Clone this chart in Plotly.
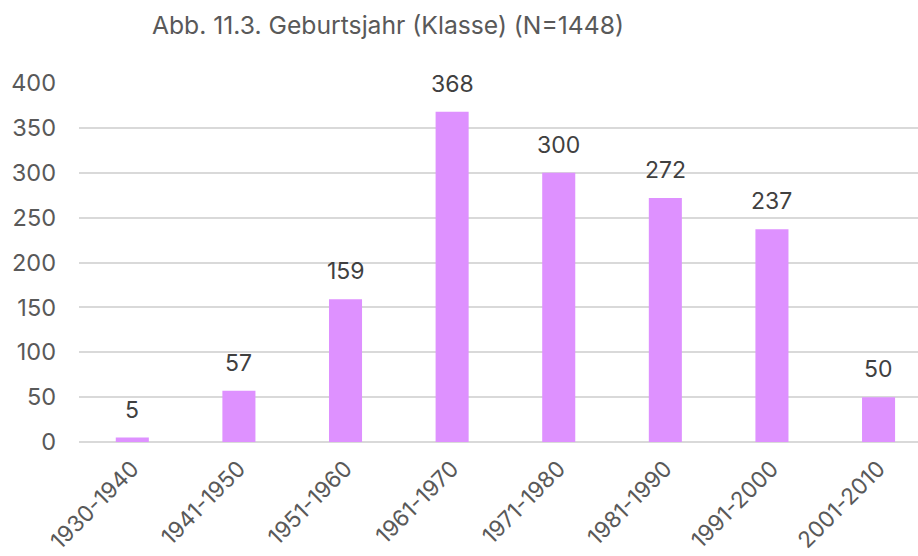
import plotly.graph_objects as go

categories = ["1930-1940", "1941-1950", "1951-1960", "1961-1970",
              "1971-1980", "1981-1990", "1991-2000", "2001-2010"]
counts = [5, 57, 159, 368, 300, 272, 237, 50]
title_text = "Abb. 11.3. Geburtsjahr (Klasse) (N=1448)"
y_ticks = [0, 50, 100, 150, 200, 250, 300, 350, 400]

FONT = "Inter, Roboto, sans-serif"

fig = go.Figure()
fig.add_trace(go.Bar(
    x=categories, y=counts,
    marker=dict(color="#DE91FF", line=dict(width=0)),
    width=0.31,
    hoverinfo="x+y",
))

for c, v in zip(categories, counts):
    fig.add_annotation(x=c, y=v, text=str(v), showarrow=False,
                       yanchor="bottom", yshift=12,
                       font=dict(family=FONT, size=23, color="#404040"))

fig.update_layout(
    width=918, height=556,
    margin=dict(l=79, r=0, t=83, b=114),
    paper_bgcolor="white", plot_bgcolor="white",
    showlegend=False,
    title=dict(text=title_text, x=388/918, xanchor="center",
               y=1 - 25/556, yanchor="middle",
               font=dict(family=FONT, size=24.7, color="#595959")),
    xaxis=dict(
        type="category", range=[-0.5, 7.37], automargin=False,
        tickangle=-45, showgrid=False, showline=False, ticks="",
        ticklabelstandoff=8,
        tickfont=dict(family=FONT, size=22.5, color="#595959"),
    ),
    yaxis=dict(
        range=[0, 400], tickvals=y_ticks, automargin=False,
        showgrid=True, gridcolor="#D9D9D9", gridwidth=1.5,
        zeroline=True, zerolinecolor="#D9D9D9", zerolinewidth=1.5,
        showline=False, ticks="",
        ticklabelstandoff=22,
        tickfont=dict(family=FONT, size=23.5, color="#595959"),
    ),
    bargap=0.69,
)

fig.write_html(
    "out.html",
    config={"displayModeBar": False},
    post_script="document.body.style.margin='0';document.body.style.padding='0';document.body.style.overflow='hidden';",
)
